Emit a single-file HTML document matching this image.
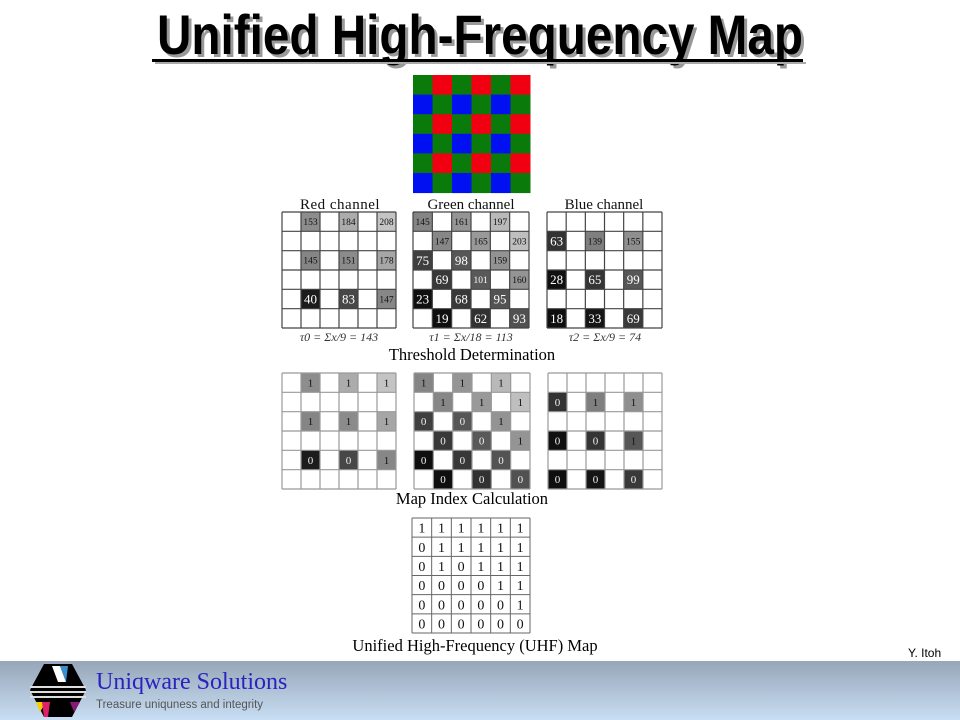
<!DOCTYPE html>
<html><head><meta charset="utf-8"><style>
html,body{margin:0;padding:0;background:#fff;}
body{width:960px;height:720px;position:relative;overflow:hidden;}
</style></head><body>
<svg width="960" height="720" viewBox="0 0 960 720" xmlns="http://www.w3.org/2000/svg" style="position:absolute;left:0;top:0">
<defs>
<linearGradient id="ft" x1="0" y1="0" x2="0" y2="1">
<stop offset="0" stop-color="#97a6b8"/><stop offset="1" stop-color="#c8def4"/>
</linearGradient>
</defs>
<g font-family="Liberation Sans, sans-serif" font-weight="bold" font-size="56">
<text x="480" y="54" text-anchor="middle" fill="#999" textLength="646" lengthAdjust="spacingAndGlyphs" transform="translate(3,3)">Unified High-Frequency Map</text>
<text x="480" y="54" text-anchor="middle" fill="#000" textLength="646" lengthAdjust="spacingAndGlyphs">Unified High-Frequency Map</text>
</g>
<rect x="152" y="59" width="651" height="3" fill="#000"/>
<rect x="155" y="62" width="651" height="2" fill="#aaa"/>

<g id="bayer"></g>
<g id="grids"></g>

<g font-family="Liberation Serif, serif" font-size="15" text-anchor="middle" fill="#111">
<text x="340" y="209" letter-spacing="0.5">Red channel</text>
<text x="471" y="209">Green channel</text>
<text x="604" y="209">Blue channel</text>
</g>
<g font-family="Liberation Serif, serif" font-size="12" font-style="italic" text-anchor="middle" fill="#333">
<text x="339" y="341">τ0 = Σx/9 = 143</text>
<text x="471" y="341">τ1 = Σx/18 = 113</text>
<text x="605" y="341">τ2 = Σx/9 = 74</text>
</g>
<g font-family="Liberation Serif, serif" font-size="16.5" text-anchor="middle" fill="#000">
<text x="472" y="360">Threshold Determination</text>
<text x="472" y="504">Map Index Calculation</text>
<text x="475" y="651">Unified High-Frequency (UHF) Map</text>
</g>
<text x="908" y="657" font-family="Liberation Sans, sans-serif" font-size="12" fill="#000">Y. Itoh</text>

<rect x="0" y="661" width="960" height="59" fill="url(#ft)"/>
<g>
<polygon points="44,664 72,664 86,690 72,717 44,717 30,690" fill="#000"/>
<polygon points="52,666 60,666 66,682 58,682" fill="#fff"/>
<polygon points="60,666 68,666 66,682" fill="#3a8fd0"/>
<rect x="30" y="686" width="56" height="2" fill="#ddd"/>
<rect x="30" y="691" width="56" height="2" fill="#ddd"/>
<rect x="30" y="696" width="56" height="2" fill="#ddd"/>
<polygon points="36,702 46,702 40,712" fill="#f5d000"/>
<polygon points="42,702 50,702 48,717 44,717" fill="#e0206a"/>
<polygon points="70,702 80,702 74,712" fill="#8a1a7a"/>
</g>
<text x="96" y="689" font-family="Liberation Serif, serif" font-size="24" fill="#2a22c0">Uniqware Solutions</text>
<text x="96" y="708" font-family="Liberation Sans, sans-serif" font-size="11.5" fill="#555">Treasure uniquness and integrity</text>
</svg>
<script>
const NS="http://www.w3.org/2000/svg";
function el(p,t,a,txt){const e=document.createElementNS(NS,t);for(const k in a)e.setAttribute(k,a[k]);if(txt!==undefined)e.textContent=txt;p.appendChild(e);return e;}
const b=document.getElementById('bayer');
const cs=19.5;
for(let r=0;r<6;r++)for(let c=0;c<6;c++){
 let col;
 if(r%2==0) col=(c%2==0)?'#0a7a0a':'#f00010'; else col=(c%2==0)?'#0010f0':'#0a7a0a';
 el(b,'rect',{x:413+c*cs,y:75+r*cs*1.005,width:cs+0.5,height:cs+0.6,fill:col});
}
const g=document.getElementById('grids');
function grid(x0,y0,w,h,cells,stroke,map,thr){
 const cw=w/6,ch=h/6;
 el(g,'rect',{x:x0,y:y0,width:w,height:h,fill:'#fff'});
 for(const [r,c,v] of cells){
  const gv=Math.max(15,Math.min(230,v-12));
  el(g,'rect',{x:x0+c*cw,y:y0+r*ch,width:cw,height:ch,fill:`rgb(${gv},${gv},${gv})`});
  let txt,fs,color;
  if(map){txt=v>=thr?'1':'0';fs=11;color=v>=thr?'#111':'#eee';}
  else{txt=String(v);fs=v>=100?9.5:13;color=v<110?'#fff':'#111';}
  el(g,'text',{x:x0+c*cw+cw/2,y:y0+r*ch+ch/2+fs*0.35,'text-anchor':'middle','font-family':'Liberation Serif, serif','font-size':fs,fill:color},txt);
 }
 for(let i=0;i<=6;i++){
  el(g,'line',{x1:x0+i*cw,y1:y0,x2:x0+i*cw,y2:y0+h,stroke:stroke,'stroke-width':1.2});
  el(g,'line',{x1:x0,y1:y0+i*ch,x2:x0+w,y2:y0+i*ch,stroke:stroke,'stroke-width':1.2});
 }
}
const red=[[0,1,153],[0,3,184],[0,5,208],[2,1,145],[2,3,151],[2,5,178],[4,1,40],[4,3,83],[4,5,147]];
const green=[[0,0,145],[0,2,161],[0,4,197],[1,1,147],[1,3,165],[1,5,203],[2,0,75],[2,2,98],[2,4,159],[3,1,69],[3,3,101],[3,5,160],[4,0,23],[4,2,68],[4,4,95],[5,1,19],[5,3,62],[5,5,93]];
const blue=[[1,0,63],[1,2,139],[1,4,155],[3,0,28],[3,2,65],[3,4,99],[5,0,18],[5,2,33],[5,4,69]];
grid(282,212,114,116,red,'#444',false);
grid(413,212,116,116,green,'#444',false);
grid(547,212,115,116,blue,'#444',false);
grid(282,373,114,116,red,'#999',true,143);
grid(414,373,116,116,green,'#999',true,113);
grid(548,373,114,116,blue,'#999',true,74);
const U=["111111","011111","010111","000011","000001","000000"];
const ux=412,uy=518,uw=118/6,uh=115/6;
for(let i=0;i<=6;i++){
 el(g,'line',{x1:ux+i*uw,y1:uy,x2:ux+i*uw,y2:uy+115,stroke:'#666','stroke-width':1});
 el(g,'line',{x1:ux,y1:uy+i*uh,x2:ux+118,y2:uy+i*uh,stroke:'#666','stroke-width':1});
}
for(let r=0;r<6;r++)for(let c=0;c<6;c++)
 el(g,'text',{x:ux+c*uw+uw/2,y:uy+r*uh+uh/2+5,'text-anchor':'middle','font-family':'Liberation Serif, serif','font-size':14,fill:'#111'},U[r][c]);
</script>
</body></html>
